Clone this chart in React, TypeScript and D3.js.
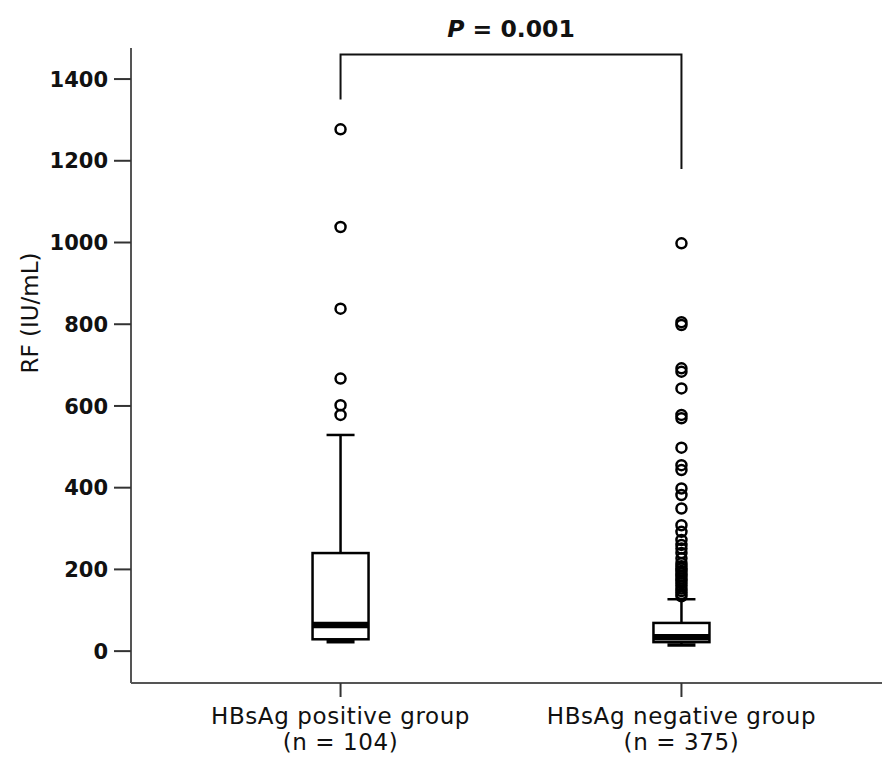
import React from "react";
import * as d3 from "d3";

const groups = ["HBsAg positive group", "HBsAg negative group"];
const nLabels = ["(n = 104)", "(n = 375)"];

// box stats (IU/mL)
const whiskerLow = [23, 15];
const q1 = [29, 22];
const median = [64, 34];
const q3 = [240, 69];
const whiskerHigh = [529, 127];

const outliersPos = [1277, 1038, 838, 667, 602, 578];
const outliersNeg = [
  998, 805, 798, 692, 684, 643, 578, 570, 498, 455, 443, 398, 382, 349, 308,
  292, 272, 260, 251, 240, 227, 215, 208, 202, 196, 190, 184, 178, 172, 166,
  160, 153, 147, 140, 134,
];

const yTicks = [0, 200, 400, 600, 800, 1000, 1200, 1400];
const pLabel = "0.001";
// bracket levels, in data units
const bracketTop = 1460;
const bracketEnds = [1350, 1180];

const W = 882;
const H = 758;

export default function App() {
  const axisX = 131;
  const axisY = 683;

  const y = d3.scaleLinear().domain([-78, 1476]).range([axisY, 48]);
  const x = d3.scalePoint<string>().domain(groups).range([136, 886]).padding(0.6);

  const boxW = 56;
  const capW = 28;
  const outliers = [outliersPos, outliersNeg];

  return (
    <svg
      width={W}
      height={H}
      style={{ position: "absolute", left: 0, top: 0, background: "#fff" }}
    >
      {/* y axis */}
      <line x1={axisX} x2={axisX} y1={y(1476)} y2={axisY} stroke="#555" strokeWidth={2} />
      {yTicks.map((t) => (
        <g key={t}>
          <line x1={axisX - 17} x2={axisX} y1={y(t)} y2={y(t)} stroke="#333" strokeWidth={2} />
          <text
            x={axisX - 23}
            y={y(t)}
            dy="0.36em"
            textAnchor="end"
            fontFamily="DejaVu Sans"
            fontWeight="bold"
            fontSize={21}
            fill="#111"
          >
            {t}
          </text>
        </g>
      ))}
      <text
        transform={`translate(38,313) rotate(-90)`}
        textAnchor="middle"
        fontFamily="DejaVu Sans"
        fontSize={23}
        fill="#111"
      >
        RF (IU/mL)
      </text>

      {/* x axis */}
      <line x1={axisX} x2={W} y1={axisY} y2={axisY} stroke="#555" strokeWidth={2} />
      {groups.map((g, i) => (
        <g key={g}>
          <line x1={x(g)} x2={x(g)} y1={axisY} y2={axisY + 14} stroke="#333" strokeWidth={2} />
          <text
            x={x(g)}
            y={724}
            textAnchor="middle"
            fontFamily="DejaVu Sans"
            fontSize={23}
            letterSpacing={0.6}
            fill="#111"
          >
            {g}
          </text>
          <text
            x={x(g)}
            y={750}
            textAnchor="middle"
            fontFamily="DejaVu Sans"
            fontSize={23}
            letterSpacing={0.6}
            fill="#111"
          >
            {nLabels[i]}
          </text>
        </g>
      ))}

      {/* boxes */}
      {groups.map((g, i) => {
        const cx = x(g) as number;
        return (
          <g key={g} stroke="#000" fill="none">
            <line x1={cx} x2={cx} y1={y(q3[i])} y2={y(whiskerHigh[i])} strokeWidth={2.5} />
            <line x1={cx} x2={cx} y1={y(q1[i])} y2={y(whiskerLow[i])} strokeWidth={2.5} />
            <line x1={cx - capW / 2} x2={cx + capW / 2} y1={y(whiskerHigh[i])} y2={y(whiskerHigh[i])} strokeWidth={2.5} />
            <line x1={cx - capW / 2} x2={cx + capW / 2} y1={y(whiskerLow[i])} y2={y(whiskerLow[i])} strokeWidth={3.5} />
            <rect
              x={cx - boxW / 2}
              y={y(q3[i])}
              width={boxW}
              height={y(q1[i]) - y(q3[i])}
              fill="#fff"
              strokeWidth={2.5}
            />
            <line x1={cx - boxW / 2} x2={cx + boxW / 2} y1={y(median[i])} y2={y(median[i])} strokeWidth={6.5} />
            {outliers[i].map((v, j) => (
              <circle key={j} cx={cx} cy={y(v)} r={5} strokeWidth={2.5} fill="none" />
            ))}
          </g>
        );
      })}

      {/* significance bracket */}
      <path
        d={`M${x(groups[0])},${y(bracketEnds[0])}V${y(bracketTop)}H${x(groups[1])}V${y(bracketEnds[1])}`}
        fill="none"
        stroke="#111"
        strokeWidth={2}
      />
      <text
        x={((x(groups[0]) as number) + (x(groups[1]) as number)) / 2}
        y={37}
        textAnchor="middle"
        fontFamily="DejaVu Sans"
        fontWeight="bold"
        fontSize={23.5}
        fill="#111"
      >
        <tspan fontStyle="italic">P</tspan> = {pLabel}
      </text>
    </svg>
  );
}
